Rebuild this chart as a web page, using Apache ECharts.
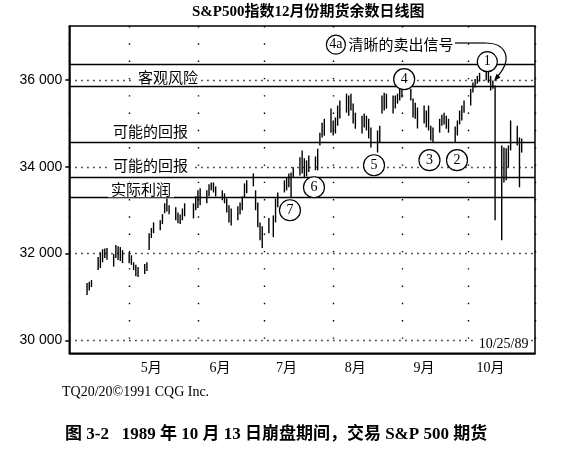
<!DOCTYPE html>
<html><head><meta charset="utf-8">
<script src="https://cdn.jsdelivr.net/npm/echarts@6/dist/echarts.min.js"></script>
<style>html,body{margin:0;padding:0;background:#fff}#c{width:565px;height:451px}</style>
</head><body><div id="c"></div>
<script>
// Trading days (day of month) per month, 1989
const aprDays=[12,13,14,17,18,19,20,21,24,25,26,27,28];
const mayDays=[1,2,3,4,5,8,9,10,11,12,15,16,17,18,19,22,23,24,25,26,30,31];
const junDays=[1,2,5,6,7,8,9,12,13,14,15,16,19,20,21,22,23,26,27,28,29,30];
const julDays=[3,5,6,7,10,11,12,13,14,17,18,19,20,21,24,25,26,27,28,31];
const augDays=[1,2,3,4,7,8,9,10,11,14,15,16,17,18,21,22,23,24,25,28,29,30,31];
const sepDays=[1,5,6,7,8,11,12,13,14,15,18,19,20,21,22,25,26,27,28,29];
const octDays=[2,3,4,5,6,9,10,11,12,13,16,17,18,19,20,23,24,25];
// Daily highs / lows
const aprHigh=[31320,31350,31390,31920,32030,32100,32120,32130,31990,32200,32170,32150,32080];
const aprLow =[31045,31150,31230,31620,31670,31800,31900,31860,31700,31900,31850,31830,31780];
const mayHigh=[32030,31960,31800,31740,31690,31760,31800,32470,32590,32720,32770,32910,33160,33270,33115,33070,32950,32900,33040,33160,33160,33320];
const mayLow =[31780,31740,31620,31480,31460,31530,31600,32080,32360,32470,32540,32680,32930,32970,32910,32770,32700,32680,32770,32860,32810,33000];
const junHigh=[33460,33510,33460,33600,33640,33640,33550,33460,33390,33270,33115,33040,33090,33180,33320,33620,33690,33850,33460,33180,32720,32630];
const junLow =[33050,33115,33160,33320,33460,33410,33320,33230,33160,32950,32720,32650,32770,32900,33000,33300,33390,33550,33000,32610,32310,32130];
const julHigh=[32820,32880,33270,33410,33690,33760,33850,33870,33990,34220,34380,34200,34150,34265,34240,34420,34790,35020,35110,35345];
const julLow =[32470,32380,32720,33070,33410,33460,33530,33300,33760,33800,33850,33760,33780,33880,33920,33920,34495,34680,34720,34790];
const augHigh=[35070,35140,35415,35530,35690,35645,35690,35460,35250,35180,35230,35180,35110,34910,34840,34950,35645,35710,35690,35645,35645,35690,35805];
const augLow =[34725,34770,34950,35115,35250,35180,35300,35000,34880,34770,34910,34840,34655,34450,34330,34560,35230,35300,35345,35230,35345,35460,35530];
const sepHigh=[35850,35800,35575,35480,35370,35415,35300,35415,34950,34910,35110,35200,35250,35180,35110,34930,35070,35300,35415,35530];
const sepLow =[35600,35530,35140,35110,34885,35000,34910,34840,34610,34560,34790,34950,34980,34880,34790,34560,34725,34980,35070,35250];
const octHigh=[35800,35945,36030,36100,36170,36260,36220,36100,35990,35875,34495,34450,34430,34495,35070,34950,34680,34655];
const octLow =[35415,35715,35830,35920,35965,35990,35940,35760,35805,32770,32310,33640,33690,33990,34380,34495,33530,34330];
// Levels and ticks
const solidLevels=[36360,35850,34575,33770,33290];
const dottedLevels=[30000,32000,34000,36000];
const yTicks=[30000,32000,34000,36000];

const months=[['04',aprDays,aprHigh,aprLow],['05',mayDays,mayHigh,mayLow],['06',junDays,junHigh,junLow],
  ['07',julDays,julHigh,julLow],['08',augDays,augHigh,augLow],['09',sepDays,sepHigh,sepLow],['10',octDays,octHigh,octLow]];
const bars=[];
months.forEach(([m,days,hi,lo])=>{days.forEach((d,i)=>{bars.push(['1989-'+m+'-'+(d<10?'0'+d:d),hi[i],lo[i]]);});});

const serif='"Liberation Serif","Noto Sans CJK SC",serif';
const cjk='"Noto Sans CJK SC","Liberation Serif",sans-serif';

function circ(coord,txt,size){
  return {coord:coord,symbol:'circle',symbolSize:size||20,
    itemStyle:{color:'#fff',borderColor:'#000',borderWidth:1.2},
    label:{show:true,position:'inside',formatter:txt,color:'#000',fontSize:14,fontFamily:serif}};
}
function txt(coord,t,pos){
  return {coord:coord,symbol:'rect',symbolSize:1,itemStyle:{color:'rgba(0,0,0,0)'},
    label:{show:true,position:pos||'inside',distance:0,formatter:t,color:'#000',fontSize:15,fontFamily:cjk,
      backgroundColor:'#fff',padding:[0,3]}};
}

const chart=echarts.init(document.getElementById('c'),null,{renderer:'canvas'});
chart.setOption({
  animation:false,
  backgroundColor:'#fff',
  grid:{left:69.3,right:30,top:26,bottom:97.7,show:true,borderColor:'#000',borderWidth:1.5,backgroundColor:'transparent'},
  xAxis:{type:'time',min:'1989-04-04',max:'1989-10-31',
    minInterval:28*86400000,maxInterval:31*86400000,splitNumber:7,
    axisLine:{show:true,lineStyle:{color:'#000',width:1.5}},
    axisTick:{show:false},
    splitLine:{show:true,lineStyle:{color:'#000',width:1.4,type:[1.4,15.9]}},
    axisLabel:{show:true,showMinLabel:false,showMaxLabel:false,color:'#000',fontSize:14,fontFamily:serif,
      margin:8,align:'center',padding:[0,0,0,44],
      formatter:function(v){return (new Date(v).getMonth()+1)+'月';}}
  },
  yAxis:{type:'value',min:29700,max:37250,
    axisLine:{show:true,lineStyle:{color:'#000',width:1.5}},
    axisTick:{show:true,inside:false,length:4,customValues:yTicks,lineStyle:{color:'#000',width:1.5}},
    splitLine:{show:false},
    axisLabel:{customValues:yTicks,color:'#000',fontSize:14,margin:7,fontFamily:'"Liberation Sans",sans-serif',
      formatter:function(v){return String(v).replace(/(\d+)(\d{3})$/,'$1 $2');}}
  },
  series:[{
    type:'custom',
    data:bars,
    encode:{x:0,y:[1,2]},
    renderItem:function(params,api){
      const x=api.value(0);
      const a=api.coord([x,api.value(1)]);
      const b=api.coord([x,api.value(2)]);
      return {type:'line',shape:{x1:a[0],y1:a[1],x2:b[0],y2:b[1]},style:{stroke:'#000',lineWidth:1.4}};
    },
    markLine:{silent:true,symbol:'none',animation:false,label:{show:false},
      data:[].concat(
        dottedLevels.map(v=>({yAxis:v,lineStyle:{color:'#000',width:1.3,type:[1.3,4.7]}})),
        solidLevels.map(v=>({yAxis:v,lineStyle:{color:'#000',width:1.3,type:'solid'}})))
    },
    markPoint:{silent:true,animation:false,data:[
      txt(['1989-05-18 12:00',36058],'客观风险'),
      txt(['1989-05-10 14:00',34811],'可能的回报'),
      txt(['1989-05-10 14:00',34027],'可能的回报'),
      txt(['1989-05-06 08:00',33473],'实际利润'),
      circ(['1989-10-09 12:00',36427],'1'),
      circ(['1989-09-02 00:00',36023],'4',21),
      circ(['1989-08-19 10:00',34038],'5',21),
      circ(['1989-09-13 10:00',34154],'3',21),
      circ(['1989-09-25 20:00',34154],'2',21),
      circ(['1989-07-23 08:00',33530],'6',21),
      circ(['1989-07-12 12:00',33000],'7',21),
      circ(['1989-08-02 05:00',36819],'4a',19),
      (function(){const o=txt(['1989-08-07 16:00',36819],'清晰的卖出信号','right');o.label.backgroundColor='transparent';o.label.padding=0;return o;})(),
      (function(){const o=txt(['1989-10-16 20:00',29907],'10/25/89');o.label.fontFamily=serif;o.label.fontSize=14;o.label.padding=[0,2];return o;})()
    ]}
  }],
  graphic:[
    {type:'text',left:192,top:5,style:{text:'S&P500指数12月份期货余数日线图',font:'bold 15px '+serif,fill:'#000'}},
    {type:'text',left:62,top:385,style:{text:'TQ20/20©1991 CQG Inc.',font:'14px '+serif,fill:'#000'}},
    {type:'text',left:65,top:426,style:{text:'图 3-2   1989 年 10 月 13 日崩盘期间，交易 S&P 500 期货',font:'bold 17px '+serif,fill:'#000'}},
    {type:'line',shape:{x1:455,y1:43,x2:485,y2:43},style:{stroke:'#000',lineWidth:1.2}},
    {type:'bezierCurve',shape:{x1:485,y1:43,cpx1:506,cpy1:43,cpx2:513,cpy2:58,x2:498,y2:76},style:{stroke:'#000',lineWidth:1.2,fill:null}},
    {type:'polygon',shape:{points:[[494,81],[500.5,77.5],[496.5,73.8]]},style:{fill:'#000'}}
  ]
});
</script></body></html>
